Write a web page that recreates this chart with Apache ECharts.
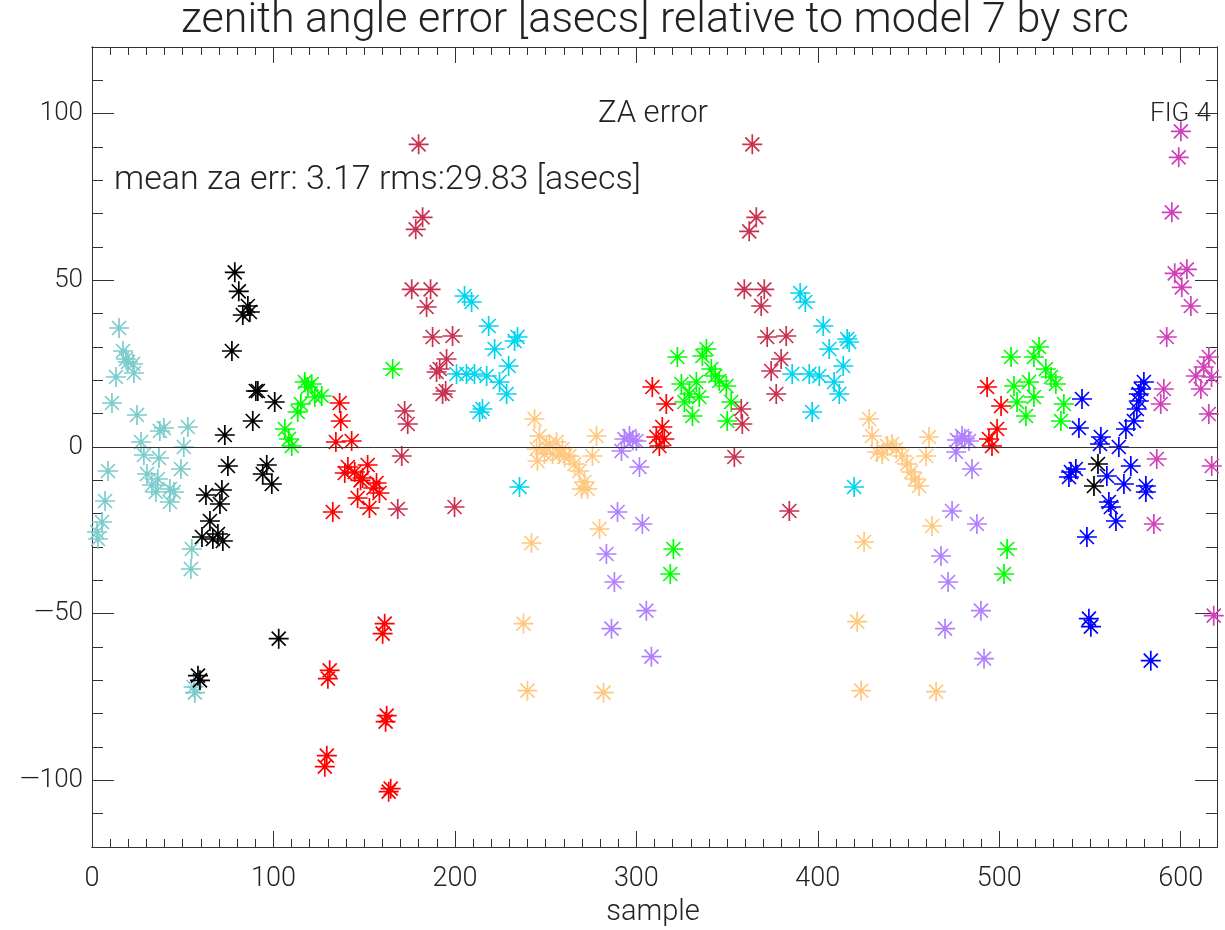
<!DOCTYPE html>
<html>
<head>
<meta charset="utf-8">
<script src="https://cdn.jsdelivr.net/npm/echarts@6/dist/echarts.min.js"></script>
<style>
  html, body { margin: 0; padding: 0; background: #fff; }
  #chart { width: 1225px; height: 930px; }
</style>
</head>
<body>
<div id="chart"></div>
<script>
// za error per source, [sample, asecs]
var srcTeal = [[2.8,-25.5],[3.3,-27.6],[5.5,-22.5],[7.2,-16.2],[8.8,-7.2],[11.0,13.2],[13.2,21.0],[14.9,35.7],[17.1,28.8],[18.7,26.4],[19.8,25.5],[22.6,24.9],[23.1,22.2],[24.8,9.6],[27.0,1.5],[28.6,-2.4],[30.3,-8.1],[33.0,-11.4],[35.2,-13.5],[36.3,-9.6],[36.9,-3.3],[37.4,4.8],[39.6,5.7],[42.9,-16.5],[42.9,-12.6],[45.1,-13.5],[49.0,-6.6],[50.6,0],[52.8,6.0],[54.5,-36.6],[55.0,-30.6],[56.7,-73.7],[56.0,-72]]
var srcBlack = [[58.4,-68.6],[59.5,-70],[60.6,-27.0],[62.8,-14.4],[65.0,-22.2],[66.6,-27.6],[69.4,-26.1],[70.5,-17.1],[71.6,-12.9],[72.1,-28.2],[73.2,3.6],[74.9,-5.7],[77.1,28.8],[78.7,52.4],[80.9,46.7],[83.1,39.6],[85.9,42.3],[87,40.5],[88.6,7.8],[90.3,16.8],[91.4,16.8],[94.1,-8.1],[96.3,-5.4],[99.1,-11.1],[100.7,13.5],[102.9,-57.5],[552.2,-11.7],[554.4,-5.1]]
var srcGreen = [[106.3,5.4],[108.5,2.4],[110.1,0.3],[113.4,10.5],[115.1,12.9],[117.3,19.5],[119,18],[121.1,18.9],[122.8,15.0],[126.6,15.3],[165.7,23.4],
  [318.7,-38.1],[320.4,-30.6],[322.6,27.0],[324.8,18.9],[326.5,13.5],[329.2,15.9],[330.9,9.3],[333.1,19.5],[334.7,15.0],[336.4,27.3],[338.6,29.4],[341.3,23.4],[343.5,21.3],[345.7,19.8],[349.6,18.3],[350.1,7.8],[352.3,13.5],
  [502.6,-38.1],[504.3,-30.6],[506.5,27.0],[508.1,18.3],[509.8,13.5],[514.7,9.3],[516.4,19.5],[519.1,27.0],[519.1,15.0],[521.9,30.0],[525.7,23.4],[528.5,21.0],[531.2,18.9],[534.0,7.8],[535.6,12.9]]
var srcRed = [[128.3,-95.9],[129.4,-92.6],[130,-69.5],[131,-67],[132.7,-19.5],[134.4,1.5],[136.5,13.2],[137.1,7.8],[139.3,-7.8],[141,-6],[143.1,1.8],[144.8,-7.5],[146.4,-15.3],[148,-10],[149.1,-9.3],[151.9,-5.4],[152.9,-18.3],[155.1,-12.3],[156.8,-10.8],[158.4,-13.8],[160.2,-56],[161.3,-53],[161.8,-82.4],[162.4,-80.6],[163.5,-103.4],[164.6,-102.5],
  [308.8,18.0],[311.0,3.0],[312.7,0.3],[314.3,6.0],[315.4,2.4],[316.5,12.9],
  [493.3,18.0],[494.3,2.4],[496.0,0.3],[498.8,5.4],[501.0,12.3]]
var srcCrimson = [[168.5,-18.6],[170.7,-2.7],[172.3,10.8],[174.0,6.9],[176.2,47.3],[178.4,65.3],[180.0,90.8],[182.2,68.9],[184.4,42.0],[186.6,47.3],[187.7,33.0],[189.9,22.5],[191.6,23.4],[193.2,15.9],[194.9,16.8],[195.4,26.4],[198.7,33.3],[199.8,-18.0],
  [354.0,-3.0],[357.8,11.4],[358.4,6.9],[359.5,47.3],[362.2,64.7],[363.9,90.8],[366.1,68.9],[368.8,42.3],[370.5,47.3],[372.1,33.0],[374.3,22.8],[377.1,15.9],[379.8,26.4],[382.6,33.3],[384.3,-19.2]]
var srcCyan = [[200.9,21.9],[205.3,45.3],[206.4,21.9],[209.2,43.5],[210.8,21.9],[213.6,10.5],[215.2,11.4],[217.5,21.3],[218.6,36.3],[221.9,29.4],[224.6,19.5],[228.5,15.9],[229.6,24.3],[232.9,31.8],[234.5,33],[235.6,-12.0],
  [385.9,21.9],[390.3,46.2],[393.1,43.5],[395.3,21.9],[396.9,10.5],[400.8,21.3],[403.0,36.3],[406.3,29.4],[409.0,19.5],[411.8,15.9],[414.0,24.3],[416.2,32.4],[417.3,31.5],[420.0,-12.0]]
var srcPeach = [[237.8,-53.0],[240.0,-73.1],[242.2,-28.8],[243.9,8.4],[245.0,-0.6],[245.5,-4.2],[246.6,3.3],[249.4,-2.1],[250.5,0],[252.1,0.9],[253.8,-2.1],[256.0,1.5],[257.6,-2.1],[259.3,-0.6],[260.4,-3.0],[263.1,-2.7],[265.9,-5.1],[268.6,-7.2],[269.8,-12.6],[271.4,-10.5],[273.1,-12.6],[275.8,-2.7],[278.0,3.3],[279.7,-24.6],[281.9,-73.7],
  [421.7,-52.4],[423.9,-73.1],[425.5,-28.5],[428.3,8.4],[429.9,3.3],[432.7,-1.5],[435.5,-2.1],[438.2,0.3],[440.9,0.9],[443.2,-0.6],[446.5,-2.7],[449.2,-5.1],[451.4,-7.5],[453.6,-9.6],[455.8,-11.7],[459.7,-2.7],[461.3,3.0],[463.0,-23.7],[465.2,-73.4]]
var srcPurple = [[283.5,-32.1],[286.3,-54.5],[287.9,-40.5],[289.6,-19.5],[291.8,-1.2],[293.4,2.4],[296.2,3.3],[298,2],[300.0,1.8],[301.7,-6.0],[303.3,-23.1],[305.5,-49.1],[308.3,-62.9],
  [467.9,-32.7],[470.1,-54.5],[471.8,-40.5],[474.0,-19.2],[476.2,-1.5],[476.7,2.1],[479.5,3.3],[481,2.5],[483.3,1.8],[485.0,-6.6],[487.7,-23.1],[489.9,-49.1],[491.6,-63.5]]
var srcBlue = [[538.4,-9.0],[539.5,-7.5],[542.2,-6.6],[543.9,5.7],[545.6,14.4],[548.3,-27.0],[549.4,-51.5],[550.5,-53.9],[555.5,0.9],[556.0,3.0],[559.3,-8.7],[560.4,-16.5],[561.5,-18.0],[564.3,-22.2],[565.9,0],[568.7,-11.1],[569.8,5.4],[572.5,-5.7],[574.2,7.8],[575.8,11.4],[576.9,13.8],[576.9,15.9],[578,17.4],[579.7,19.5],[580.8,-11.7],[580.8,-13.5],[583.5,-64.1]]
var srcMagenta = [[585.2,-23.1],[586.8,-3.6],[589.0,12.9],[590.7,17.4],[592.3,33.0],[595.1,70.4],[596.7,52.1],[598.9,86.9],[600.1,94.7],[600.6,47.9],[603.4,53.3],[605.6,42.3],[608.3,21.3],[611.1,17.4],[612.7,24.0],[615.5,27.0],[615.5,9.9],[617.1,-5.7],[618.2,-50.6],[617,21]]

var xMajor = [0, 100, 200, 300, 400, 500, 600]
var yMajor = [-100, -50, 0, 50, 100]

var FONT = 'Roboto'
var INK = '#222'
// idl psym=2 style asterisk
var STAR = 'path://M10,0L10,20M0,10L20,10M3,3L17,17M3,17L17,3'

var chart = echarts.init(document.getElementById('chart'))

function starSeries (data, color, extra) {
  var s = {
    type: 'scatter',
    data: data,
    symbol: STAR,
    symbolSize: 20,
    itemStyle: { color: color, borderColor: color, borderWidth: 1.7, opacity: 1 },
    emphasis: { disabled: true },
    silent: true,
    animation: false
  }
  return Object.assign(s, extra || {})
}

var gridBox = { left: 92, right: 8, top: 47, bottom: 83 }
var axisLineStyle = { lineStyle: { color: '#333', width: 1 } }

function xAx (grid, pos, major) {
  return {
    type: 'value', gridIndex: grid, position: pos, min: 0, max: 620,
    interval: major ? undefined : 10,
    axisLine: Object.assign({ show: true, onZero: false }, axisLineStyle),
    axisTick: major
      ? { show: true, inside: true, length: 16, customValues: xMajor, lineStyle: { color: '#333' } }
      : { show: true, inside: true, length: 8, lineStyle: { color: '#333' } },
    axisLabel: (major && pos === 'bottom')
      ? { show: true, customValues: xMajor, margin: 19, fontFamily: FONT, fontWeight: 300, fontSize: 27, color: INK }
      : { show: false },
    splitLine: { show: false }
  }
}
function yAx (grid, pos, major) {
  return {
    type: 'value', gridIndex: grid, position: pos, min: -120, max: 120,
    interval: major ? undefined : 10,
    axisLine: Object.assign({ show: true, onZero: false }, axisLineStyle),
    axisTick: major
      ? { show: true, inside: true, length: 22, customValues: yMajor, lineStyle: { color: '#333' } }
      : { show: true, inside: true, length: 11, lineStyle: { color: '#333' } },
    axisLabel: (major && pos === 'left')
      ? { show: true, customValues: yMajor, margin: 9, fontFamily: FONT, fontWeight: 300, fontSize: 26, color: INK,
          formatter: function (v) { return String(v).replace('-', '\u2014') } }
      : { show: false },
    splitLine: { show: false }
  }
}

var option = {
  backgroundColor: '#fff',
  animation: false,
  grid: [
    Object.assign({}, gridBox),
    Object.assign({}, gridBox)
  ],
  xAxis: [
    xAx(0, 'bottom', false), xAx(0, 'top', false),
    xAx(1, 'bottom', true), xAx(1, 'top', true)
  ],
  yAxis: [
    yAx(0, 'left', false), yAx(0, 'right', false),
    yAx(1, 'left', true), yAx(1, 'right', true)
  ],
  graphic: [
    { type: 'text', x: 655, y: 21, style: { text: 'zenith angle error [asecs] relative to model 7 by src', font: '300 43px Roboto', fill: INK, align: 'center', verticalAlign: 'middle' } },
    { type: 'text', x: 653, y: 114, style: { text: 'ZA error', font: '300 31px Roboto', fill: INK, align: 'center', verticalAlign: 'middle' } },
    { type: 'text', x: 1150, y: 114, style: { text: 'FIG', font: '300 26px Roboto', fill: INK, align: 'left', verticalAlign: 'middle' } },
    { type: 'text', x: 1211, y: 114, style: { text: '4', font: '300 26px Roboto', fill: INK, align: 'right', verticalAlign: 'middle' } },
    { type: 'text', x: 114, y: 180, style: { text: 'mean za err: 3.17 rms:29.83 [asecs]', font: '300 34px Roboto', fill: INK, align: 'left', verticalAlign: 'middle' } },
    { type: 'text', x: 653, y: 913, style: { text: 'sample', font: '300 29px Roboto', fill: INK, align: 'center', verticalAlign: 'middle' } }
  ],
  series: [
    starSeries(srcTeal, '#7ccccc'),
    starSeries(srcBlack, '#000000', {
      markLine: {
        silent: true, symbol: ['none', 'none'], animation: false,
        label: { show: false },
        lineStyle: { color: '#333', width: 1, type: 'solid' },
        data: [{ yAxis: 0 }]
      }
    }),
    starSeries(srcGreen, '#00ff00'),
    starSeries(srcRed, '#ff0000'),
    starSeries(srcCrimson, '#c83250'),
    starSeries(srcCyan, '#00d4f0'),
    starSeries(srcPeach, '#ffc880'),
    starSeries(srcPurple, '#b080ff'),
    starSeries(srcBlue, '#0000ff'),
    starSeries(srcMagenta, '#d040b8')
  ]
}
chart.setOption(option)
</script>
</body>
</html>
